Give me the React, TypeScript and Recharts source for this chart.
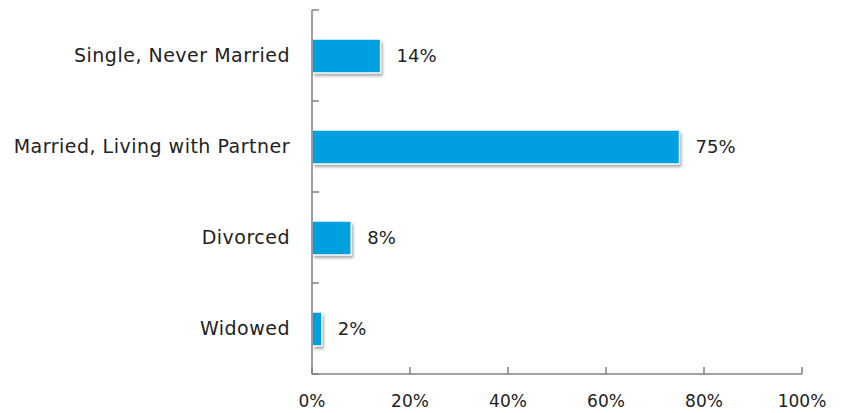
import React from "react";
import { BarChart, Bar, XAxis, YAxis, LabelList } from "recharts";

const categories = ["Single, Never Married", "Married, Living with Partner", "Divorced", "Widowed"];
const shares = [14, 75, 8, 2];
const xTicks = [0, 20, 40, 60, 80, 100];

const data = categories.map((name, i) => ({ name, value: shares[i] }));

const FONT = "'DejaVu Sans', sans-serif";
const TEXT = "#222222";
const AXIS = "#808080";
const BAR = "#009fdf";

const X_TICK_SIZE = 6;
const X_TICK_MARGIN = 14;
const Y_TICK_SIZE = 6;
const Y_TICK_MARGIN = 16;
const MARK = 7;

const BarShape = (props: any) => {
  const { x, y, width, height } = props;
  if (width == null || height == null) return null;
  return (
    <g>
      <defs>
        <filter id="barShadow" x="-20%" y="-40%" width="140%" height="180%">
          <feGaussianBlur stdDeviation="1.6" />
        </filter>
      </defs>
      <rect x={x + 2} y={y + 3} width={width} height={height} fill="rgba(0,0,0,0.35)" filter="url(#barShadow)" />
      <rect x={x} y={y} width={width} height={height} fill={BAR} stroke="#ffffff" strokeWidth={1.5} />
    </g>
  );
};

const XTick = (props: any) => {
  const { x, y, payload } = props;
  const axisY = y - X_TICK_SIZE - X_TICK_MARGIN;
  return (
    <g>
      <line x1={x} x2={x} y1={axisY} y2={axisY - MARK} stroke={AXIS} strokeWidth={1.5} />
      <text x={x} y={y} dy={13} textAnchor="middle" fill={TEXT} fontSize={17} fontFamily={FONT}>
        {`${payload.value}%`}
      </text>
    </g>
  );
};

const YTick = (props: any) => {
  const { x, y, payload, index } = props;
  const axisX = x + Y_TICK_SIZE + Y_TICK_MARGIN;
  const half = payload && payload.offset ? payload.offset : 45.5;
  return (
    <g>
      <line x1={axisX} x2={axisX + MARK} y1={y - half} y2={y - half} stroke={AXIS} strokeWidth={1.5} />
      {index === categories.length - 1 ? (
        <line x1={axisX} x2={axisX + MARK} y1={y + half} y2={y + half} stroke={AXIS} strokeWidth={1.5} />
      ) : null}
      <text x={x} y={y} dy={6} textAnchor="end" fill={TEXT} fontSize={19} letterSpacing={0.5} fontFamily={FONT}>
        {payload.value}
      </text>
    </g>
  );
};

export default function App() {
  return (
    <div style={{ position: "absolute", left: 0, top: 0, background: "#fff" }}>
      <BarChart
        width={843}
        height={413}
        data={data}
        layout="vertical"
        margin={{ top: 10, right: 41, bottom: 9, left: 12 }}
        barSize={34}
      >
        <XAxis
          type="number"
          dataKey="value"
          domain={[0, 100]}
          ticks={xTicks}
          interval={0}
          height={30}
          tickLine={false}
          tickSize={X_TICK_SIZE}
          tickMargin={X_TICK_MARGIN}
          axisLine={{ stroke: AXIS, strokeWidth: 1.5 }}
          tick={<XTick />}
        />
        <YAxis
          type="category"
          dataKey="name"
          width={300}
          tickLine={false}
          tickSize={Y_TICK_SIZE}
          tickMargin={Y_TICK_MARGIN}
          axisLine={{ stroke: AXIS, strokeWidth: 1.5 }}
          tick={<YTick />}
          interval={0}
        />
        <Bar dataKey="value" isAnimationActive={false} shape={<BarShape />}>
          <LabelList
            dataKey="value"
            position="right"
            offset={16}
            formatter={(v: any) => `${v}%`}
            fill={TEXT}
            fontSize={18}
            fontFamily={FONT}
          />
        </Bar>
      </BarChart>
    </div>
  );
}
